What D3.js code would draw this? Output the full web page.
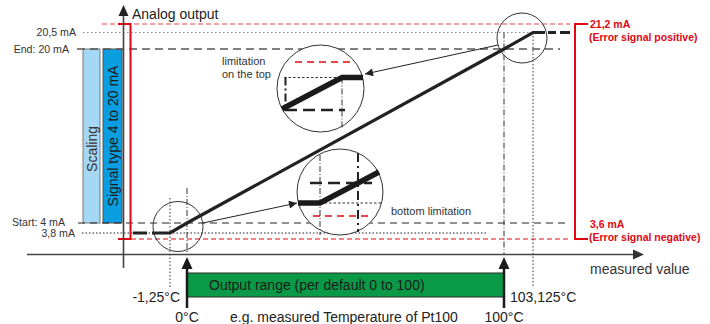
<!DOCTYPE html>
<html><head><meta charset="utf-8">
<script src="https://cdn.jsdelivr.net/npm/d3@7"></script>
<style>body{margin:0;background:#fff} svg{display:block} text{font-family:"Liberation Sans",Arial,Helvetica,sans-serif}</style>
</head><body><svg id="c" width="710" height="324"></svg>
<script>
// ---- data ----
const tempValues = [-1.25, 0, 100, 103.125];
const tempLabels = ["-1,25°C", "0°C", "100°C", "103,125°C"];
const currentValues = [3.6, 3.8, 4, 20, 20.5, 21.2];
const leftLabelValues = [20.5, 20, 4, 3.8];
const leftLabels = ["20,5 mA", "End: 20 mA", "Start: 4 mA", "3,8 mA"];
const outputX = [-1.25, 0, 100, 103.125];
const outputY = [3.8, 4, 20, 20.5];
const errorValues = [21.2, 3.6];
const errorLabels = [["21,2 mA", "(Error signal positive)"], ["3,6 mA", "(Error signal negative)"]];
const scalingLabels = ["Scaling", "Signal type 4 to 20 mA"];
const rangeLabel = "Output range (per default 0 to 100)";
const xAxisTitle = "measured value";
const yAxisTitle = "Analog output";
const sensorLabel = "e.g. measured Temperature of Pt100";
const zoomLabels = [["limitation", "on the top"], ["bottom limitation"]];

// ---- scales (schematic, piecewise linear) ----
const x = d3.scaleLinear().domain(tempValues).range([170, 187, 504, 533]);
const y = d3.scaleLinear().domain(currentValues).range([239, 233, 223, 49, 32.5, 24]);

const svg = d3.select("#c");
const RED = "#e30613";
const FS = 14;

// scaling bars
svg.append("rect").attr("x", 83).attr("y", y(20)).attr("width", 17).attr("height", y(4) - y(20))
  .attr("fill", "#a4d8f4").attr("stroke", "#7a7a7a").attr("stroke-width", 1);
svg.append("rect").attr("x", 103).attr("y", y(20)).attr("width", 19).attr("height", y(4) - y(20))
  .attr("fill", "#0a9ee0").attr("stroke", "#555").attr("stroke-width", 1);
svg.append("text").attr("transform", `translate(96.5,${(y(20)+y(4))/2 + 13}) rotate(-90)`)
  .attr("text-anchor", "middle").attr("font-size", FS).attr("fill", "#333").text(scalingLabels[0]);
svg.append("text").attr("transform", `translate(117.5,${(y(20)+y(4))/2}) rotate(-90)`)
  .attr("text-anchor", "middle").attr("font-size", FS).attr("fill", "#1a1a1a").text(scalingLabels[1]);

// horizontal reference lines
const hline = (v, x1, x2, stroke, dash, w) => svg.append("line")
  .attr("x1", x1).attr("x2", x2).attr("y1", y(v)).attr("y2", y(v))
  .attr("stroke", stroke).attr("stroke-dasharray", dash).attr("stroke-width", w);
hline(21.2, 102, 570, "#f08585", "5,3", 1.4);
hline(20.5, 83, x(103.125), "#888", "1.5,2.5", 1.2);
hline(20, 77, 560, "#555", "8,5", 1.3);
hline(4, 78, 570, "#222", "7,5", 1.2);
hline(3.8, 82, 488, "#222", "1.5,2", 1);
hline(3.6, 131, 570, RED, "5,3", 1);

// vertical reference lines
const vline = (t, y1, y2, stroke, dash, w) => svg.append("line")
  .attr("x1", x(t)).attr("x2", x(t)).attr("y1", y1).attr("y2", y2)
  .attr("stroke", stroke).attr("stroke-dasharray", dash).attr("stroke-width", w);
vline(-1.25, 198, 287, "#333", "1.5,2", 1);
vline(0, 188, 254, "#333", "6,2,1,2", 1);
vline(100, y(20.5), 254, "#333", "6,2,1,2", 1);
vline(103.125, y(20.5), 287, "#333", "1.5,2", 1);

// left labels
svg.selectAll("text.ll").data(leftLabelValues).join("text").attr("class", "ll")
  .attr("x", (d, i) => [76, 69, 65, 75][i]).attr("y", (d, i) => y(d) + [0, 0, -0.5, 0.5][i]).attr("dy", "0.35em")
  .attr("text-anchor", "end").attr("font-size", 10.6).attr("fill", "#333")
  .text((d, i) => leftLabels[i]);

// red brackets
svg.append("path").attr("d", `M118,${y(21.2)}H130.5V${y(3.6)}H118`).attr("fill", "none")
  .attr("stroke", RED).attr("stroke-width", 2);
svg.append("path").attr("d", `M588,${y(21.2)}H575V${y(3.6)}H588`).attr("fill", "none")
  .attr("stroke", RED).attr("stroke-width", 2);
errorValues.forEach((v, i) => {
  const top = i === 0 ? y(v) : y(v) - 15;
  const t = svg.append("text").attr("font-size", 10.5).attr("font-weight", "bold").attr("fill", RED);
  t.append("tspan").attr("x", 590).attr("y", top).attr("dy", "0.35em").text(errorLabels[i][0]);
  t.append("tspan").attr("x", 589).attr("y", top + 13.5).attr("dy", "0.35em").text(errorLabels[i][1]);
});

// axes
svg.append("line").attr("x1", 27).attr("x2", 636).attr("y1", 254.5).attr("y2", 254.5)
  .attr("stroke", "#444").attr("stroke-width", 1.6);
svg.append("path").attr("d", "M644,254.5L633,249.5L633,259.5Z").attr("fill", "#333");
svg.append("line").attr("x1", 123.5).attr("x2", 123.5).attr("y1", 14).attr("y2", 268)
  .attr("stroke", "#444").attr("stroke-width", 1.6);
svg.append("path").attr("d", "M123.5,5L118.5,16L128.5,16Z").attr("fill", "#222");
svg.append("text").attr("x", 132).attr("y", 14).attr("dy", "0.35em").attr("font-size", FS)
  .attr("fill", "#222").text(yAxisTitle);
svg.append("text").attr("x", 590).attr("y", 269).attr("dy", "0.35em").attr("font-size", FS)
  .attr("fill", "#333").text(xAxisTitle);

// output characteristic
const line = d3.line().x(d => x(d[0])).y(d => y(d[1]));
const pts = outputX.map((v, i) => [v, outputY[i]]);
svg.append("line").attr("x1", 133).attr("x2", x(-1.25) - 16).attr("y1", y(3.8)).attr("y2", y(3.8))
  .attr("stroke", "#222").attr("stroke-width", 3).attr("stroke-dasharray", "14,5");
svg.append("path").attr("d", `M${x(-1.25) - 17},${y(3.8)}L` + line(pts).slice(1) + `H${x(103.125) + 12}`)
  .attr("fill", "none").attr("stroke", "#222").attr("stroke-width", 3.2).attr("stroke-linejoin", "miter");
svg.append("line").attr("x1", x(103.125) + 12).attr("x2", 570).attr("y1", y(20.5)).attr("y2", y(20.5))
  .attr("stroke", "#222").attr("stroke-width", 3).attr("stroke-dasharray", "0,3,8,4,12");

// small circles
svg.append("circle").attr("cx", 178).attr("cy", 226.5).attr("r", 25)
  .attr("fill", "none").attr("stroke", "#333").attr("stroke-width", 1);
svg.append("circle").attr("cx", 522).attr("cy", 38).attr("r", 25)
  .attr("fill", "none").attr("stroke", "#333").attr("stroke-width", 1);

// arrow marker
svg.append("defs").append("marker").attr("id", "ah").attr("viewBox", "0 0 10 10")
  .attr("refX", 10).attr("refY", 5).attr("markerWidth", 10).attr("markerHeight", 8)
  .attr("markerUnits", "userSpaceOnUse").attr("orient", "auto")
  .append("path").attr("d", "M0,0L10,5L0,10Z").attr("fill", "#222");
svg.append("line").attr("x1", 498).attr("y1", 45).attr("x2", 365).attr("y2", 74)
  .attr("stroke", "#222").attr("stroke-width", 1).attr("marker-end", "url(#ah)");
svg.append("line").attr("x1", 203).attr("y1", 223).attr("x2", 297).attr("y2", 203)
  .attr("stroke", "#222").attr("stroke-width", 1).attr("marker-end", "url(#ah)");

// zoom circle top
const zt = svg.append("g");
zt.append("circle").attr("cx", 320.5).attr("cy", 88.5).attr("r", 43.5).attr("fill", "#fff")
  .attr("stroke", "#333").attr("stroke-width", 1);
zt.append("line").attr("x1", 295).attr("x2", 352).attr("y1", 62).attr("y2", 62)
  .attr("stroke", RED).attr("stroke-width", 1.5).attr("stroke-dasharray", "7,5");
zt.append("line").attr("x1", 284).attr("x2", 342).attr("y1", 77.5).attr("y2", 77.5)
  .attr("stroke", "#333").attr("stroke-width", 1).attr("stroke-dasharray", "2.5,2");
zt.append("line").attr("x1", 342).attr("x2", 342).attr("y1", 77.5).attr("y2", 128)
  .attr("stroke", "#333").attr("stroke-width", 1).attr("stroke-dasharray", "6,2,1,2");
zt.append("line").attr("x1", 285).attr("x2", 345).attr("y1", 110).attr("y2", 110)
  .attr("stroke", "#222").attr("stroke-width", 2.5).attr("stroke-dasharray", "12,6");
zt.append("line").attr("x1", 285.5).attr("x2", 285.5).attr("y1", 77.5).attr("y2", 110)
  .attr("stroke", "#222").attr("stroke-width", 2).attr("stroke-dasharray", "8,3,2,3");
zt.append("path").attr("d", "M282,109L342,77.5H363").attr("fill", "none").attr("stroke", "#1a1a1a")
  .attr("stroke-width", 5.5);
const tl = svg.append("text").attr("font-size", 11).attr("fill", "#333");
tl.append("tspan").attr("x", 222).attr("y", 65).text(zoomLabels[0][0]);
tl.append("tspan").attr("x", 222).attr("y", 78).text(zoomLabels[0][1]);

// zoom circle bottom
const zb = svg.append("g");
zb.append("circle").attr("cx", 340).attr("cy", 192).attr("r", 43).attr("fill", "#fff")
  .attr("stroke", "#333").attr("stroke-width", 1);
zb.append("line").attr("x1", 320).attr("x2", 320).attr("y1", 155).attr("y2", 235)
  .attr("stroke", "#333").attr("stroke-width", 1).attr("stroke-dasharray", "6,2,1,2");
zb.append("line").attr("x1", 320).attr("x2", 382).attr("y1", 203).attr("y2", 203)
  .attr("stroke", "#333").attr("stroke-width", 1).attr("stroke-dasharray", "2.5,2");
zb.append("line").attr("x1", 310).attr("x2", 372).attr("y1", 183).attr("y2", 183)
  .attr("stroke", "#222").attr("stroke-width", 2.5).attr("stroke-dasharray", "12,6");
zb.append("line").attr("x1", 358).attr("x2", 358).attr("y1", 153).attr("y2", 232)
  .attr("stroke", "#222").attr("stroke-width", 2).attr("stroke-dasharray", "9,4,2,4");
zb.append("line").attr("x1", 313).attr("x2", 370).attr("y1", 216).attr("y2", 216)
  .attr("stroke", RED).attr("stroke-width", 1.5).attr("stroke-dasharray", "7,5");
zb.append("path").attr("d", "M298,203H320L379,172").attr("fill", "none").attr("stroke", "#1a1a1a")
  .attr("stroke-width", 5.5);
svg.append("text").attr("x", 391).attr("y", 211).attr("dy", "0.35em").attr("font-size", 11)
  .attr("fill", "#333").text(zoomLabels[1][0]);

// output range bar
svg.append("rect").attr("x", x(0)).attr("y", 273).attr("width", x(100) - x(0)).attr("height", 24)
  .attr("fill", "#0a9a47").attr("stroke", "#2a2a2a").attr("stroke-width", 1);
svg.append("text").attr("x", 209).attr("y", 285.5).attr("dy", "0.35em").attr("font-size", FS)
  .attr("fill", "#1a1a1a").text(rangeLabel);

// range arrows
[0, 100].forEach(t => {
  svg.append("line").attr("x1", x(t)).attr("x2", x(t)).attr("y1", 308).attr("y2", 265)
    .attr("stroke", "#1a1a1a").attr("stroke-width", 2.5);
  svg.append("path").attr("d", `M${x(t)},257L${x(t) - 5.5},269L${x(t) + 5.5},269Z`).attr("fill", "#1a1a1a");
});

// temperature labels
svg.append("text").attr("x", x(-1.25) + 10).attr("y", 297).attr("dy", "0.35em").attr("text-anchor", "end")
  .attr("font-size", FS).attr("fill", "#222").text(tempLabels[0]);
svg.append("text").attr("x", x(103.125) - 23).attr("y", 297).attr("dy", "0.35em")
  .attr("font-size", FS).attr("fill", "#222").text(tempLabels[3]);
svg.append("text").attr("x", x(0)).attr("y", 317).attr("dy", "0.35em").attr("text-anchor", "middle")
  .attr("font-size", FS).attr("fill", "#222").text(tempLabels[1]);
svg.append("text").attr("x", x(100)).attr("y", 317).attr("dy", "0.35em").attr("text-anchor", "middle")
  .attr("font-size", FS).attr("fill", "#222").text(tempLabels[2]);
svg.append("text").attr("x", 230).attr("y", 317).attr("dy", "0.35em")
  .attr("font-size", FS).attr("fill", "#222").text(sensorLabel);
</script></body></html>
